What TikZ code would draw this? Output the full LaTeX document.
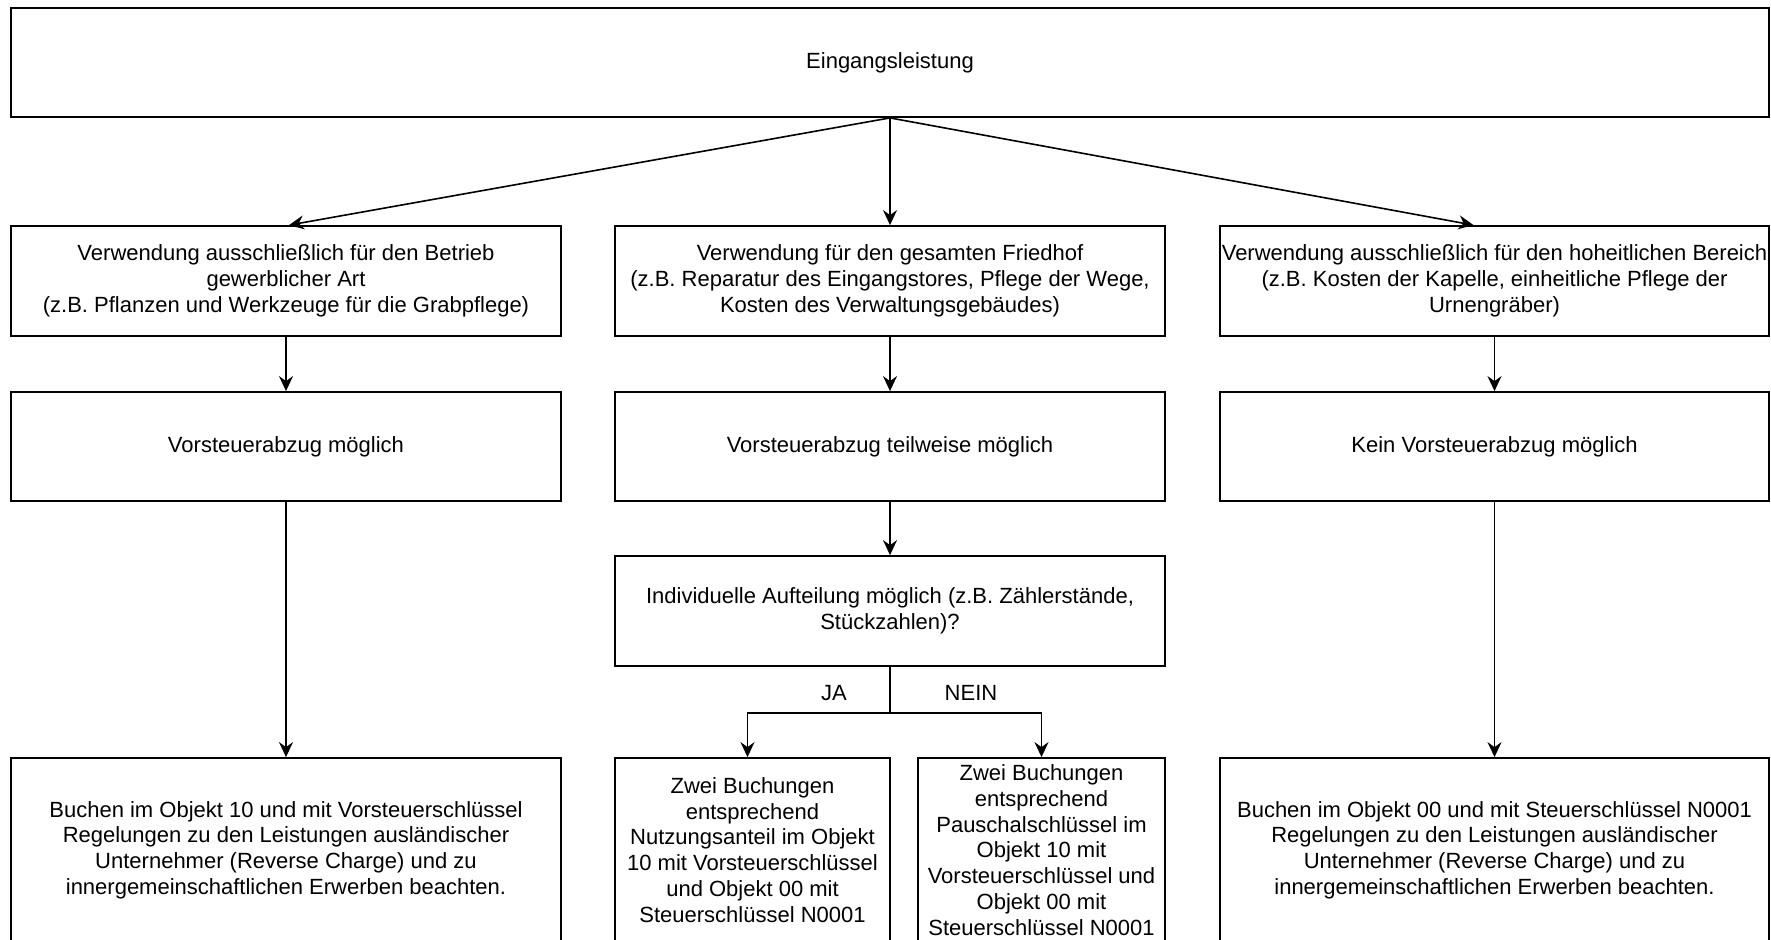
\documentclass[tikz,border=0pt]{standalone}
\usepackage{fontspec}
\setmainfont{Liberation Sans}
\usetikzlibrary{arrows.meta,calc}

\tikzset{
	kasten/.style={draw, line width=0.9pt, inner sep=0pt, align=center, font=\fontsize{11}{12.9}\selectfont},
	pfeil/.style={line width=0.8pt, -{Stealth[length=7.5pt,width=7pt,inset=2.5pt]}},
	marke/.style={inner sep=0pt, font=\fontsize{11}{12.9}\selectfont}
}

\begin{document}
\begin{tikzpicture}[x=0.5pt,y=-0.5pt]
			%%%%% START %%%%%
			\useasboundingbox (0,0) rectangle (1771,939);
			
			\node[kasten, minimum width=879pt, minimum height=54.5pt] (eingang) at (890,62.5) {Eingangsleistung};
			
			\node[kasten, minimum width=275pt, minimum height=55pt] (betrieb) at (286,281) {Verwendung ausschließlich für den Betrieb\\ gewerblicher Art\\ (z.B. Pflanzen und Werkzeuge für die Grabpflege)};
			\node[kasten, minimum width=275pt, minimum height=55pt] (friedhof) at (890,281) {Verwendung für den gesamten Friedhof\\ (z.B. Reparatur des Eingangstores, Pflege der Wege,\\ Kosten des Verwaltungsgebäudes)};
			\node[kasten, minimum width=274.5pt, minimum height=55pt] (hoheit) at (1494.5,281) {Verwendung ausschließlich für den hoheitlichen Bereich\\ (z.B. Kosten der Kapelle, einheitliche Pflege der\\ Urnengräber)};
			
			\node[kasten, minimum width=275pt, minimum height=54.5pt] (moeglich) at (286,446.5) {Vorsteuerabzug möglich};
			\node[kasten, minimum width=275pt, minimum height=54.5pt] (teilweise) at (890,446.5) {Vorsteuerabzug teilweise möglich};
			\node[kasten, minimum width=274.5pt, minimum height=54.5pt] (kein) at (1494.5,446.5) {Kein Vorsteuerabzug möglich};
			
			\node[kasten, minimum width=275pt, minimum height=55pt] (entscheid) at (890,611) {Individuelle Aufteilung möglich (z.B. Zählerstände,\\ Stückzahlen)?};
			
			\node[kasten, minimum width=275pt, minimum height=92pt] (buchen10) at (286,850) {Buchen im Objekt 10 und mit Vorsteuerschlüssel\\ Regelungen zu den Leistungen ausländischer\\ Unternehmer (Reverse Charge) und zu\\ innergemeinschaftlichen Erwerben beachten.};
			\node[kasten, minimum width=137.5pt, minimum height=92pt] (zweiA) at (752.5,850) {Zwei Buchungen\\ entsprechend\\ Nutzungsanteil im Objekt\\ 10 mit Vorsteuerschlüssel\\ und Objekt 00 mit\\ Steuerschlüssel N0001};
			\node[kasten, minimum width=123.5pt, minimum height=92pt] (zweiB) at (1041.5,850) {Zwei Buchungen\\ entsprechend\\ Pauschalschlüssel im\\ Objekt 10 mit\\ Vorsteuerschlüssel und\\ Objekt 00 mit\\ Steuerschlüssel N0001};
			\node[kasten, minimum width=274.5pt, minimum height=92pt] (buchen00) at (1494.5,850) {Buchen im Objekt 00 und mit Steuerschlüssel N0001\\ Regelungen zu den Leistungen ausländischer\\ Unternehmer (Reverse Charge) und zu\\ innergemeinschaftlichen Erwerben beachten.};
			
			\draw[pfeil] (eingang.south) -- ([xshift=1.5pt]betrieb.north);
			\draw[pfeil] (eingang.south) -- (friedhof.north);
			\draw[pfeil] (eingang.south) -- ([xshift=-10.5pt]hoheit.north);
			
			\draw[pfeil] (betrieb) -- (moeglich);
			\draw[pfeil] (friedhof) -- (teilweise);
			\draw[pfeil] (hoheit) -- (kein);
			
			\draw[pfeil] (moeglich) -- (buchen10);
			\draw[pfeil] (teilweise) -- (entscheid);
			\draw[pfeil] (kein) -- (buchen00);
			
			\coordinate (gabel) at ($(entscheid.south)+(0,46)$);
			\draw[line width=0.8pt] (entscheid.south) -- (gabel);
			\draw[pfeil] (gabel) -| ([xshift=-2.5pt]zweiA.north);
			\draw[pfeil] (gabel) -| (zweiB.north);
			\node[marke] (ja) at (834,693) {JA};
			\node[marke] (nein) at (971,693) {NEIN};
			
			%%%%% END %%%%%
\end{tikzpicture}
\end{document}
